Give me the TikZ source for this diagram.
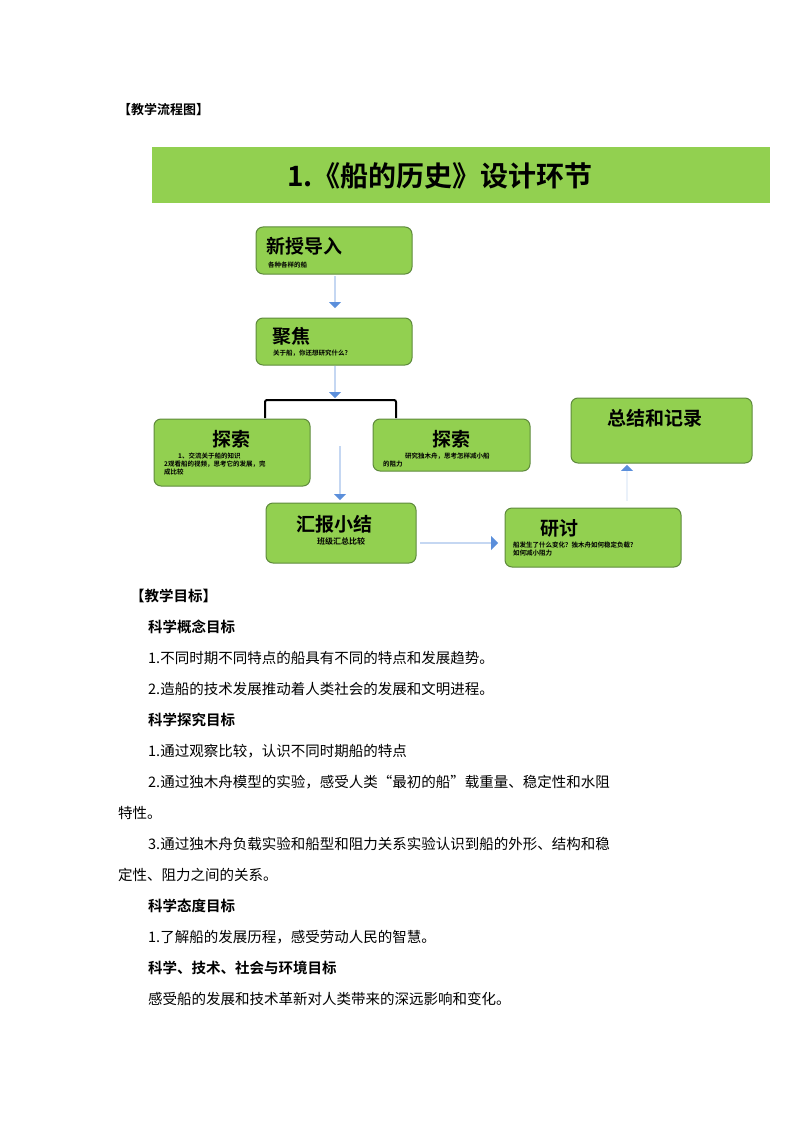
\documentclass[tikz,border=0pt]{standalone}
\usepackage{fontspec}
\setmainfont{Noto Sans CJK SC}
\newfontfamily\cjkb{Noto Sans CJK SC Bold}
\usetikzlibrary{shapes.arrows}
\definecolor{gr}{HTML}{92D050}
\definecolor{grb}{HTML}{5E8A3C}
\definecolor{bl}{HTML}{5B8FDB}
\begin{document}
\begin{tikzpicture}[x=1pt,y=-1pt,
 box/.style={draw=grb,line width=1pt,fill=gr,rounded corners=7pt,inner sep=0pt},
 ttl/.style={anchor=west,font=\cjkb\fontsize{19}{21}\selectfont,inner sep=0pt},
 sub/.style={anchor=north west,font=\cjkb\fontsize{6.5}{8}\selectfont,inner sep=0pt,align=left},
 barrow/.style={single arrow,fill=bl,draw=none,single arrow head extend=4pt,minimum width=12pt,inner sep=0pt},
 body/.style={anchor=west,font=\fontsize{14.5}{16}\selectfont,inner sep=0pt},
 bhead/.style={anchor=west,font=\cjkb\fontsize{14.5}{16}\selectfont,inner sep=0pt}]
\useasboundingbox (0,0) rectangle (794,1123);
\node[bhead,font=\cjkb\fontsize{13}{15}\selectfont] (h0) at (118,110) {【教学流程图】};
\fill[gr] (152,147) rectangle (770,203);
\node[font=\cjkb\fontsize{28}{30}\selectfont] (title) at (440,176) {1.《船的历史》设计环节};
% boxes
\draw[box] (256,227) rectangle (412,274);
\node[ttl] (t1) at (266,246) {新授导入};
\node[sub] (s1) at (268,262) {各种各样的船};
\draw[box] (256,318) rectangle (412,365);
\node[ttl] (t2) at (272,336) {聚焦};
\node[sub] (s2) at (273,350) {关于船，你还想研究什么?};
\draw[box] (154,419) rectangle (310,486);
\node[ttl] (t3) at (212,439) {探索};
\node[sub] (s3) at (164,453) {\hspace*{14pt}1、交流关于船的知识\\2观看船的视频，思考它的发展，完\\成比较};
\draw[box] (373,419) rectangle (530,471);
\node[ttl] (t4) at (432,439) {探索};
\node[sub] (s4) at (383,453) {\hspace*{22pt}研究独木舟，思考怎样减小船\\的阻力};
\draw[box] (266,503) rectangle (416,563);
\node[ttl] (t5) at (296,524) {汇报小结};
\node[sub,font=\cjkb\fontsize{8}{9}\selectfont] (s5) at (317,537) {班级汇总比较};
\draw[box] (505,508) rectangle (681,567);
\node[ttl] (t6) at (540,528) {研讨};
\node[sub] (s6) at (513,542) {船发生了什么变化？独木舟如何稳定负载?\\如何减小阻力};
\draw[box] (571,398) rectangle (752,463);
\node[ttl] (t7) at (607,418) {总结和记录};
% arrows
\node[barrow,rotate=-90,minimum height=32pt] (a1) at (335,292) {};
\node[barrow,rotate=-90,minimum height=32pt] (a2) at (335,382) {};
\node[barrow,rotate=-90,minimum height=54pt] (a3) at (340,473) {};
\node[barrow,minimum height=78pt,minimum width=14pt] (a4) at (459,543) {};
\node[barrow,rotate=90,minimum height=36pt,single arrow head extend=5pt] (a5) at (627,483) {};
\draw[line width=2pt,rounded corners=2pt] (265,418) -- (265,400) -- (396,400) -- (396,418);
% body text
\node[bhead] (b0) at (130,596) {【教学目标】};
\node[bhead] (b1) at (148,627) {科学概念目标};
\node[body] (b2) at (148,658) {1.不同时期不同特点的船具有不同的特点和发展趋势。};
\node[body] (b3) at (148,689) {2.造船的技术发展推动着人类社会的发展和文明进程。};
\node[bhead] (b4) at (148,720) {科学探究目标};
\node[body] (b5) at (148,751) {1.通过观察比较，认识不同时期船的特点};
\node[body] (b6) at (148,782) {2.通过独木舟模型的实验，感受人类“最初的船”载重量、稳定性和水阻};
\node[body] (b7) at (118,813) {特性。};
\node[body] (b8) at (148,844) {3.通过独木舟负载实验和船型和阻力关系实验认识到船的外形、结构和稳};
\node[body] (b9) at (118,875) {定性、阻力之间的关系。};
\node[bhead] (b10) at (148,906) {科学态度目标};
\node[body] (b11) at (148,937) {1.了解船的发展历程，感受劳动人民的智慧。};
\node[bhead] (b12) at (148,968) {科学、技术、社会与环境目标};
\node[body] (b13) at (148,999) {感受船的发展和技术革新对人类带来的深远影响和变化。};
\end{tikzpicture}
\end{document}
